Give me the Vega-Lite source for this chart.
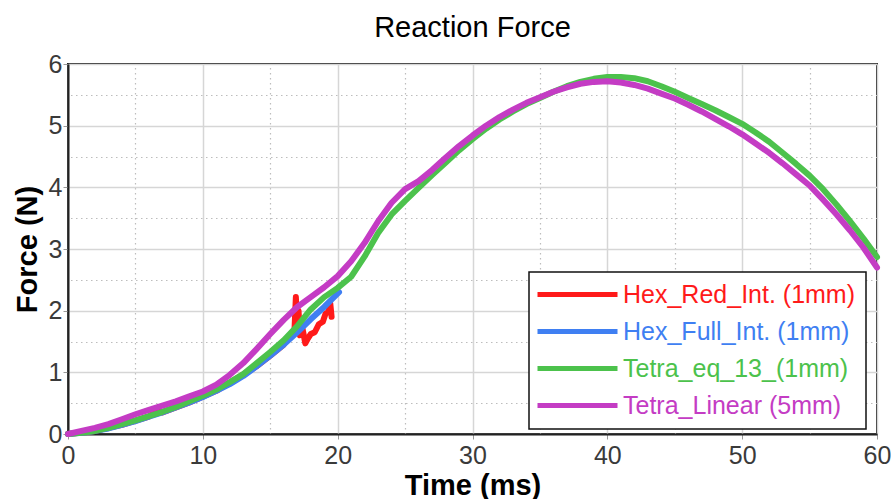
{
  "$schema": "https://vega.github.io/schema/vega-lite/v6.json",
  "width": 809,
  "height": 370,
  "autosize": "none",
  "padding": {"left": 68, "top": 64, "right": 14, "bottom": 65},
  "background": "white",
  "title": {"text": "Reaction Force", "frame": "group", "anchor": "middle", "baseline": "alphabetic", "offset": 27, "dy": 41, "fontSize": 29, "fontWeight": "normal", "font": "Liberation Sans", "color": "black"},
  "config": {
    "view": {"stroke": "#222", "strokeWidth": 2},
    "axis": {"labelFont": "Liberation Sans", "titleFont": "Liberation Sans"}
  },
  "datasets": {
    "curves": [
      {"s": "Hex_Red_Int. (1mm)", "t": 0, "f": 0},
      {"s": "Hex_Red_Int. (1mm)", "t": 2, "f": 0.05},
      {"s": "Hex_Red_Int. (1mm)", "t": 4, "f": 0.15},
      {"s": "Hex_Red_Int. (1mm)", "t": 6, "f": 0.28},
      {"s": "Hex_Red_Int. (1mm)", "t": 6.6, "f": 0.38},
      {"s": "Hex_Red_Int. (1mm)", "t": 7, "f": 0.35},
      {"s": "Hex_Red_Int. (1mm)", "t": 9, "f": 0.51},
      {"s": "Hex_Red_Int. (1mm)", "t": 11, "f": 0.7},
      {"s": "Hex_Red_Int. (1mm)", "t": 12.5, "f": 0.9},
      {"s": "Hex_Red_Int. (1mm)", "t": 14, "f": 1.1},
      {"s": "Hex_Red_Int. (1mm)", "t": 15, "f": 1.27},
      {"s": "Hex_Red_Int. (1mm)", "t": 16, "f": 1.45},
      {"s": "Hex_Red_Int. (1mm)", "t": 16.8, "f": 1.7},
      {"s": "Hex_Red_Int. (1mm)", "t": 16.9, "f": 2.22},
      {"s": "Hex_Red_Int. (1mm)", "t": 17.0, "f": 1.75},
      {"s": "Hex_Red_Int. (1mm)", "t": 17.1, "f": 2.0},
      {"s": "Hex_Red_Int. (1mm)", "t": 17.2, "f": 1.6},
      {"s": "Hex_Red_Int. (1mm)", "t": 17.4, "f": 1.7},
      {"s": "Hex_Red_Int. (1mm)", "t": 17.6, "f": 1.47},
      {"s": "Hex_Red_Int. (1mm)", "t": 17.8, "f": 1.55},
      {"s": "Hex_Red_Int. (1mm)", "t": 18.0, "f": 1.62},
      {"s": "Hex_Red_Int. (1mm)", "t": 18.3, "f": 1.65},
      {"s": "Hex_Red_Int. (1mm)", "t": 18.6, "f": 1.78},
      {"s": "Hex_Red_Int. (1mm)", "t": 18.9, "f": 1.82},
      {"s": "Hex_Red_Int. (1mm)", "t": 19.1, "f": 1.95},
      {"s": "Hex_Red_Int. (1mm)", "t": 19.3, "f": 1.98},
      {"s": "Hex_Red_Int. (1mm)", "t": 19.45, "f": 2.12},
      {"s": "Hex_Red_Int. (1mm)", "t": 19.55, "f": 1.9},

      {"s": "Hex_Full_Int. (1mm)", "t": 0, "f": 0},
      {"s": "Hex_Full_Int. (1mm)", "t": 1, "f": 0.02},
      {"s": "Hex_Full_Int. (1mm)", "t": 2, "f": 0.05},
      {"s": "Hex_Full_Int. (1mm)", "t": 3, "f": 0.09},
      {"s": "Hex_Full_Int. (1mm)", "t": 4, "f": 0.15},
      {"s": "Hex_Full_Int. (1mm)", "t": 5, "f": 0.21},
      {"s": "Hex_Full_Int. (1mm)", "t": 6, "f": 0.28},
      {"s": "Hex_Full_Int. (1mm)", "t": 7, "f": 0.35},
      {"s": "Hex_Full_Int. (1mm)", "t": 8, "f": 0.43},
      {"s": "Hex_Full_Int. (1mm)", "t": 9, "f": 0.51},
      {"s": "Hex_Full_Int. (1mm)", "t": 10, "f": 0.6},
      {"s": "Hex_Full_Int. (1mm)", "t": 11, "f": 0.7},
      {"s": "Hex_Full_Int. (1mm)", "t": 12, "f": 0.81},
      {"s": "Hex_Full_Int. (1mm)", "t": 13, "f": 0.94},
      {"s": "Hex_Full_Int. (1mm)", "t": 14, "f": 1.1},
      {"s": "Hex_Full_Int. (1mm)", "t": 15, "f": 1.27},
      {"s": "Hex_Full_Int. (1mm)", "t": 16, "f": 1.45},
      {"s": "Hex_Full_Int. (1mm)", "t": 17, "f": 1.65},
      {"s": "Hex_Full_Int. (1mm)", "t": 18, "f": 1.86},
      {"s": "Hex_Full_Int. (1mm)", "t": 19, "f": 2.06},
      {"s": "Hex_Full_Int. (1mm)", "t": 20.1, "f": 2.3},

      {"s": "Tetra_eq_13_(1mm)", "t": 0, "f": 0},
      {"s": "Tetra_eq_13_(1mm)", "t": 1, "f": 0.02},
      {"s": "Tetra_eq_13_(1mm)", "t": 2, "f": 0.05},
      {"s": "Tetra_eq_13_(1mm)", "t": 3, "f": 0.1},
      {"s": "Tetra_eq_13_(1mm)", "t": 4, "f": 0.16},
      {"s": "Tetra_eq_13_(1mm)", "t": 5, "f": 0.22},
      {"s": "Tetra_eq_13_(1mm)", "t": 6, "f": 0.29},
      {"s": "Tetra_eq_13_(1mm)", "t": 7, "f": 0.36},
      {"s": "Tetra_eq_13_(1mm)", "t": 8, "f": 0.44},
      {"s": "Tetra_eq_13_(1mm)", "t": 9, "f": 0.53},
      {"s": "Tetra_eq_13_(1mm)", "t": 10, "f": 0.62},
      {"s": "Tetra_eq_13_(1mm)", "t": 11, "f": 0.72},
      {"s": "Tetra_eq_13_(1mm)", "t": 12, "f": 0.84},
      {"s": "Tetra_eq_13_(1mm)", "t": 13, "f": 0.97},
      {"s": "Tetra_eq_13_(1mm)", "t": 14, "f": 1.15},
      {"s": "Tetra_eq_13_(1mm)", "t": 15, "f": 1.33},
      {"s": "Tetra_eq_13_(1mm)", "t": 16, "f": 1.52},
      {"s": "Tetra_eq_13_(1mm)", "t": 17, "f": 1.75},
      {"s": "Tetra_eq_13_(1mm)", "t": 18, "f": 2.02},
      {"s": "Tetra_eq_13_(1mm)", "t": 19, "f": 2.22},
      {"s": "Tetra_eq_13_(1mm)", "t": 20, "f": 2.37},
      {"s": "Tetra_eq_13_(1mm)", "t": 21, "f": 2.55},
      {"s": "Tetra_eq_13_(1mm)", "t": 22, "f": 2.88},
      {"s": "Tetra_eq_13_(1mm)", "t": 23, "f": 3.26},
      {"s": "Tetra_eq_13_(1mm)", "t": 24, "f": 3.56},
      {"s": "Tetra_eq_13_(1mm)", "t": 25, "f": 3.78},
      {"s": "Tetra_eq_13_(1mm)", "t": 26, "f": 3.99},
      {"s": "Tetra_eq_13_(1mm)", "t": 27, "f": 4.2},
      {"s": "Tetra_eq_13_(1mm)", "t": 28, "f": 4.4},
      {"s": "Tetra_eq_13_(1mm)", "t": 29, "f": 4.6},
      {"s": "Tetra_eq_13_(1mm)", "t": 30, "f": 4.78},
      {"s": "Tetra_eq_13_(1mm)", "t": 31, "f": 4.95},
      {"s": "Tetra_eq_13_(1mm)", "t": 32, "f": 5.1},
      {"s": "Tetra_eq_13_(1mm)", "t": 33, "f": 5.23},
      {"s": "Tetra_eq_13_(1mm)", "t": 34, "f": 5.35},
      {"s": "Tetra_eq_13_(1mm)", "t": 35, "f": 5.45},
      {"s": "Tetra_eq_13_(1mm)", "t": 36, "f": 5.55},
      {"s": "Tetra_eq_13_(1mm)", "t": 37, "f": 5.64},
      {"s": "Tetra_eq_13_(1mm)", "t": 38, "f": 5.71},
      {"s": "Tetra_eq_13_(1mm)", "t": 39, "f": 5.76},
      {"s": "Tetra_eq_13_(1mm)", "t": 40, "f": 5.79},
      {"s": "Tetra_eq_13_(1mm)", "t": 41, "f": 5.79},
      {"s": "Tetra_eq_13_(1mm)", "t": 42, "f": 5.77},
      {"s": "Tetra_eq_13_(1mm)", "t": 43, "f": 5.72},
      {"s": "Tetra_eq_13_(1mm)", "t": 44, "f": 5.64},
      {"s": "Tetra_eq_13_(1mm)", "t": 45, "f": 5.55},
      {"s": "Tetra_eq_13_(1mm)", "t": 46, "f": 5.45},
      {"s": "Tetra_eq_13_(1mm)", "t": 47, "f": 5.35},
      {"s": "Tetra_eq_13_(1mm)", "t": 48, "f": 5.25},
      {"s": "Tetra_eq_13_(1mm)", "t": 49, "f": 5.14},
      {"s": "Tetra_eq_13_(1mm)", "t": 50, "f": 5.03},
      {"s": "Tetra_eq_13_(1mm)", "t": 51, "f": 4.89},
      {"s": "Tetra_eq_13_(1mm)", "t": 52, "f": 4.74},
      {"s": "Tetra_eq_13_(1mm)", "t": 53, "f": 4.56},
      {"s": "Tetra_eq_13_(1mm)", "t": 54, "f": 4.38},
      {"s": "Tetra_eq_13_(1mm)", "t": 55, "f": 4.19},
      {"s": "Tetra_eq_13_(1mm)", "t": 56, "f": 3.97},
      {"s": "Tetra_eq_13_(1mm)", "t": 57, "f": 3.72},
      {"s": "Tetra_eq_13_(1mm)", "t": 58, "f": 3.45},
      {"s": "Tetra_eq_13_(1mm)", "t": 59, "f": 3.17},
      {"s": "Tetra_eq_13_(1mm)", "t": 60, "f": 2.87},

      {"s": "Tetra_Linear (5mm)", "t": 0, "f": 0},
      {"s": "Tetra_Linear (5mm)", "t": 1, "f": 0.05},
      {"s": "Tetra_Linear (5mm)", "t": 2, "f": 0.1},
      {"s": "Tetra_Linear (5mm)", "t": 3, "f": 0.16},
      {"s": "Tetra_Linear (5mm)", "t": 4, "f": 0.24},
      {"s": "Tetra_Linear (5mm)", "t": 5, "f": 0.32},
      {"s": "Tetra_Linear (5mm)", "t": 6, "f": 0.39},
      {"s": "Tetra_Linear (5mm)", "t": 7, "f": 0.46},
      {"s": "Tetra_Linear (5mm)", "t": 8, "f": 0.53},
      {"s": "Tetra_Linear (5mm)", "t": 9, "f": 0.61},
      {"s": "Tetra_Linear (5mm)", "t": 10, "f": 0.69},
      {"s": "Tetra_Linear (5mm)", "t": 11, "f": 0.8},
      {"s": "Tetra_Linear (5mm)", "t": 12, "f": 0.96},
      {"s": "Tetra_Linear (5mm)", "t": 13, "f": 1.15},
      {"s": "Tetra_Linear (5mm)", "t": 14, "f": 1.38},
      {"s": "Tetra_Linear (5mm)", "t": 15, "f": 1.62},
      {"s": "Tetra_Linear (5mm)", "t": 16, "f": 1.85},
      {"s": "Tetra_Linear (5mm)", "t": 17, "f": 2.06},
      {"s": "Tetra_Linear (5mm)", "t": 18, "f": 2.22},
      {"s": "Tetra_Linear (5mm)", "t": 19, "f": 2.38},
      {"s": "Tetra_Linear (5mm)", "t": 20, "f": 2.56},
      {"s": "Tetra_Linear (5mm)", "t": 21, "f": 2.8},
      {"s": "Tetra_Linear (5mm)", "t": 22, "f": 3.1},
      {"s": "Tetra_Linear (5mm)", "t": 23, "f": 3.45},
      {"s": "Tetra_Linear (5mm)", "t": 24, "f": 3.75},
      {"s": "Tetra_Linear (5mm)", "t": 25, "f": 3.97},
      {"s": "Tetra_Linear (5mm)", "t": 26, "f": 4.1},
      {"s": "Tetra_Linear (5mm)", "t": 27, "f": 4.28},
      {"s": "Tetra_Linear (5mm)", "t": 28, "f": 4.48},
      {"s": "Tetra_Linear (5mm)", "t": 29, "f": 4.67},
      {"s": "Tetra_Linear (5mm)", "t": 30, "f": 4.84},
      {"s": "Tetra_Linear (5mm)", "t": 31, "f": 5.0},
      {"s": "Tetra_Linear (5mm)", "t": 32, "f": 5.14},
      {"s": "Tetra_Linear (5mm)", "t": 33, "f": 5.26},
      {"s": "Tetra_Linear (5mm)", "t": 34, "f": 5.37},
      {"s": "Tetra_Linear (5mm)", "t": 35, "f": 5.46},
      {"s": "Tetra_Linear (5mm)", "t": 36, "f": 5.55},
      {"s": "Tetra_Linear (5mm)", "t": 37, "f": 5.62},
      {"s": "Tetra_Linear (5mm)", "t": 38, "f": 5.68},
      {"s": "Tetra_Linear (5mm)", "t": 39, "f": 5.71},
      {"s": "Tetra_Linear (5mm)", "t": 40, "f": 5.72},
      {"s": "Tetra_Linear (5mm)", "t": 41, "f": 5.7},
      {"s": "Tetra_Linear (5mm)", "t": 42, "f": 5.66},
      {"s": "Tetra_Linear (5mm)", "t": 43, "f": 5.6},
      {"s": "Tetra_Linear (5mm)", "t": 44, "f": 5.52},
      {"s": "Tetra_Linear (5mm)", "t": 45, "f": 5.44},
      {"s": "Tetra_Linear (5mm)", "t": 46, "f": 5.34},
      {"s": "Tetra_Linear (5mm)", "t": 47, "f": 5.23},
      {"s": "Tetra_Linear (5mm)", "t": 48, "f": 5.11},
      {"s": "Tetra_Linear (5mm)", "t": 49, "f": 4.99},
      {"s": "Tetra_Linear (5mm)", "t": 50, "f": 4.86},
      {"s": "Tetra_Linear (5mm)", "t": 51, "f": 4.71},
      {"s": "Tetra_Linear (5mm)", "t": 52, "f": 4.56},
      {"s": "Tetra_Linear (5mm)", "t": 53, "f": 4.39},
      {"s": "Tetra_Linear (5mm)", "t": 54, "f": 4.21},
      {"s": "Tetra_Linear (5mm)", "t": 55, "f": 4.03},
      {"s": "Tetra_Linear (5mm)", "t": 56, "f": 3.8},
      {"s": "Tetra_Linear (5mm)", "t": 57, "f": 3.56},
      {"s": "Tetra_Linear (5mm)", "t": 58, "f": 3.3},
      {"s": "Tetra_Linear (5mm)", "t": 59, "f": 3.02},
      {"s": "Tetra_Linear (5mm)", "t": 60, "f": 2.7}
    ]
  },
  "data": {"name": "curves"},
  "layer": [
    {
      "mark": {"type": "line", "strokeOpacity": 0},
      "encoding": {
        "detail": {"field": "s"},
        "x": {"field": "t", "type": "quantitative", "scale": {"domain": [0, 60], "nice": false},
              "axis": {"orient": "top", "values": [5, 15, 25, 35, 45, 55], "grid": true, "gridColor": "#bdbdbd", "gridDash": [1.5, 3.5], "gridWidth": 1.2, "labels": false, "ticks": false, "domain": false, "title": null}},
        "y": {"field": "f", "type": "quantitative", "scale": {"domain": [0, 6], "nice": false},
              "axis": {"orient": "right", "values": [0.5, 1.5, 2.5, 3.5, 4.5, 5.5], "grid": true, "gridColor": "#bdbdbd", "gridDash": [1.5, 3.5], "gridWidth": 1.2, "labels": false, "ticks": false, "domain": false, "title": null}}
      }
    },
    {
      "mark": {"type": "line", "strokeWidth": 6, "strokeCap": "round", "strokeJoin": "round"},
      "encoding": {
        "x": {"field": "t", "type": "quantitative",
              "axis": {"orient": "bottom", "values": [0, 10, 20, 30, 40, 50, 60], "grid": true, "gridColor": "#d6d6d6", "gridWidth": 1.5,
                       "domainColor": "#222", "domainWidth": 2, "tickColor": "#999", "tickSize": 5, "tickWidth": 1,
                       "labelFontSize": 25, "labelColor": "#3a3a3a", "labelPadding": 4, "labelFlush": false, "labelOverlap": false,
                       "title": "Time (ms)", "titleFontSize": 29, "titleFontWeight": "bold", "titleColor": "black", "titleBaseline": "alphabetic", "titleY": 60}},
        "y": {"field": "f", "type": "quantitative",
              "axis": {"orient": "left", "values": [0, 1, 2, 3, 4, 5, 6], "grid": true, "gridColor": "#d6d6d6", "gridWidth": 1.5,
                       "domainColor": "#222", "domainWidth": 2, "tickColor": "#999", "tickSize": 5, "tickWidth": 1,
                       "labelFontSize": 25, "labelColor": "#3a3a3a", "labelPadding": 1, "labelFlush": false, "labelOverlap": false,
                       "title": "Force (N)", "titleFontSize": 29, "titleFontWeight": "bold", "titleColor": "black", "titleX": -26, "titleY": 185}},
        "color": {"field": "s", "type": "nominal",
                  "scale": {"domain": ["Hex_Red_Int. (1mm)", "Hex_Full_Int. (1mm)", "Tetra_eq_13_(1mm)", "Tetra_Linear (5mm)"],
                            "range": ["#ff1a1a", "#3f7ff2", "#4cc24c", "#c43cc4"]},
                  "legend": {"orient": "none", "legendX": 461, "legendY": 208, "title": null,
                             "symbolType": "M-4,0H4", "symbolSize": 400, "symbolStrokeWidth": 5, "symbolOffset": 26,
                             "labelFontSize": 25, "labelFont": "Liberation Sans", "labelLimit": 400, "labelOffset": 33,
                             "padding": 10, "rowPadding": 11, "fillColor": "white", "strokeColor": "#111",
                             "encode": {"labels": {"update": {"fill": {"scale": "color", "field": "value"}}},
                                        "legend": {"update": {"strokeWidth": {"value": 1.5}}}}}}
      }
    }
  ],
  "resolve": {"axis": {"x": "independent", "y": "independent"}}
}
